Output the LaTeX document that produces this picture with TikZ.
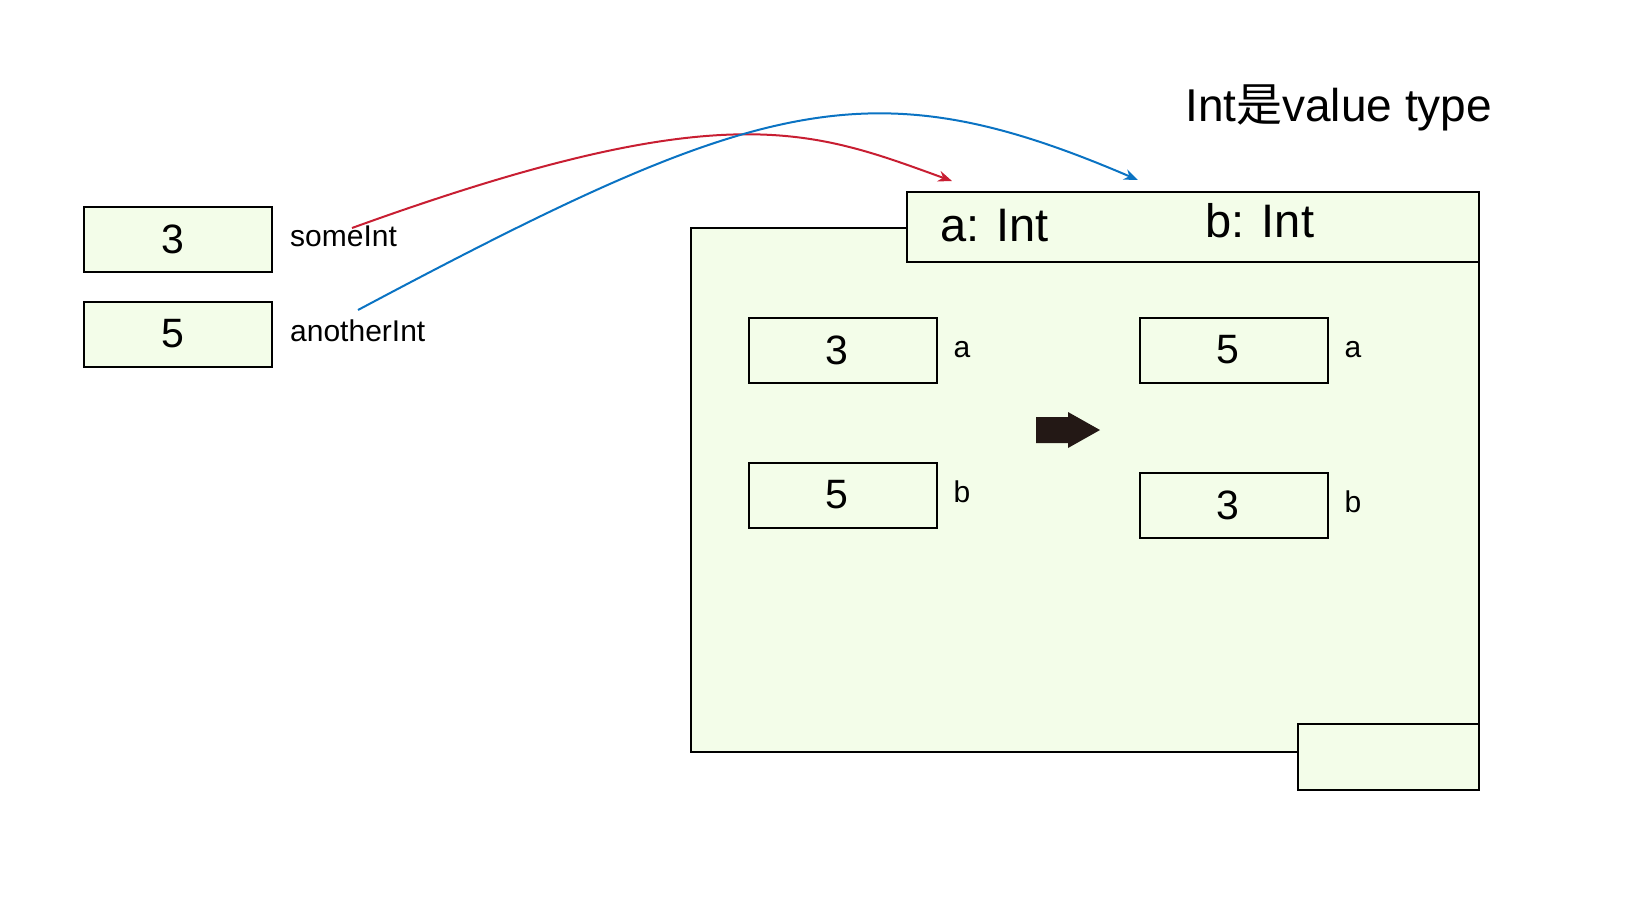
\documentclass[tikz,border=0pt]{standalone}
\usepackage{fontspec}
\setmainfont{Liberation Sans}
\newfontfamily\cjk{Noto Sans CJK SC}
\usetikzlibrary{arrows.meta}
\definecolor{boxfill}{RGB}{243,253,233}
\definecolor{linkred}{RGB}{200,30,50}
\definecolor{linkblue}{RGB}{10,115,195}
\definecolor{arrowdark}{RGB}{35,24,21}
\tikzset{
  valbox/.style={draw=black, line width=2pt, fill=boxfill, minimum width=188pt, minimum height=65pt, inner sep=0pt},
  digit/.style={inner sep=0pt, font=\fontsize{41}{44}\selectfont},
  lbl/.style={inner sep=0pt, font=\fontsize{30}{33}\selectfont},
  framebox/.style={draw=black, line width=2pt, fill=boxfill},
  bigtxt/.style={inner sep=0pt, font=\fontsize{47}{52}\selectfont},
  link/.style={line width=2pt, -{Stealth[length=14pt,width=11pt]}}
}
\begin{document}
\begin{tikzpicture}[x=1pt,y=-1pt]
\useasboundingbox (0,0) rectangle (1641,903);
% title
\node[inner sep=0pt, anchor=base west, font=\fontsize{46}{52}\selectfont] (title) at (1185,121) {Int{\cjk 是}value type};
% frame
\draw[framebox] (691,228) rectangle (1479,752);
\draw[framebox] (907,192) rectangle (1479,262);
\draw[framebox] (1298,724) rectangle (1479,790);
\node[bigtxt, anchor=base west] (aint) at (940,241) {a: Int};
\node[bigtxt, anchor=base west] (bint) at (1205,237) {b: Int};
% left boxes
\node[valbox] (s3) at (178,239.5) {};
\node[valbox] (s5) at (178,334) {};
\node[digit] at ([xshift=-5pt]s3.center) {3};
\node[digit] at ([xshift=-5pt]s5.center) {5};
\node[lbl, anchor=base west] (someint) at (290,246) {someInt};
\node[lbl, anchor=base west] (anotherint) at (290,341) {anotherInt};
% inner boxes
\node[valbox] (l3) at (843,350) {};
\node[valbox] (l5) at (843,495) {};
\node[valbox] (r5) at (1233.5,350) {};
\node[valbox] (r3) at (1233.5,505.5) {};
\node[digit] at ([xshift=-6pt]l3.center) {3};
\node[digit] at ([xshift=-6pt]l5.center) {5};
\node[digit] at ([xshift=-6pt]r5.center) {5};
\node[digit] at ([xshift=-6pt]r3.center) {3};
\node[lbl, anchor=base] (la) at (962,357) {a};
\node[lbl, anchor=base] (lb) at (962,502) {b};
\node[lbl, anchor=base] (ra) at (1353,357) {a};
\node[lbl, anchor=base] (rb) at (1353,512) {b};
% block arrow
\fill[arrowdark] (1036,417) -- (1068,417) -- (1068,412) -- (1100,430) -- (1068,448) -- (1068,443) -- (1036,443) -- cycle;
% links
\coordinate (rs) at (352,228);
\coordinate (re) at (952,181);
\coordinate (bs) at (358,310);
\coordinate (be) at (1138,180);
\draw[link, linkred] (rs) .. controls (725,93) and (811,130) .. (re);
\draw[link, linkblue] (bs) .. controls (760,96) and (870,65) .. (be);
\end{tikzpicture}
\end{document}
